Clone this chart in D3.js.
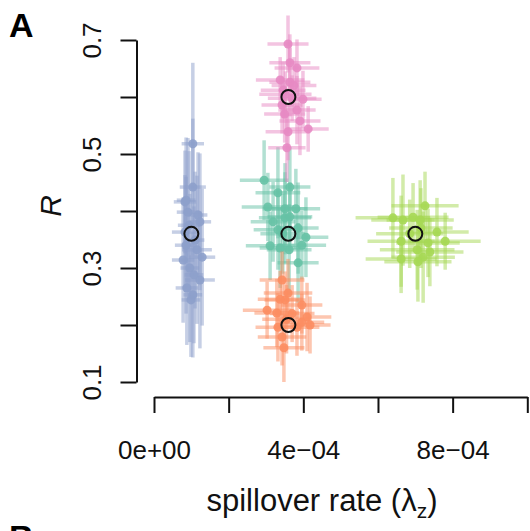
<!DOCTYPE html>
<html>
<head>
<meta charset="utf-8">
<script src="https://cdn.jsdelivr.net/npm/d3@7"></script>
<style>
  body { margin: 0; background: #fff; }
  svg { font-family: "Liberation Sans", Arial, sans-serif; }
</style>
</head>
<body>
<svg id="chart" width="530" height="531"></svg>
<script>
// rows: [lambda (x1e-4), R, lambda half-error (x1e-4), R half-error]
var blueRows = [
  [1.04, 0.518, 0.30, 0.142], [1.04, 0.442, 0.35, 0.12], [0.86, 0.419, 0.25, 0.11],
  [0.91, 0.398, 0.30, 0.13], [1.23, 0.381, 0.30, 0.12], [0.83, 0.363, 0.35, 0.10],
  [1.10, 0.349, 0.25, 0.12], [1.15, 0.332, 0.40, 0.13], [0.78, 0.314, 0.30, 0.11],
  [1.29, 0.319, 0.35, 0.12], [0.96, 0.300, 0.25, 0.13], [1.23, 0.279, 0.40, 0.12],
  [0.88, 0.265, 0.30, 0.10], [1.04, 0.253, 0.25, 0.11], [0.86, 0.340, 0.30, 0.12],
  [1.18, 0.393, 0.25, 0.11], [0.94, 0.375, 0.30, 0.13], [1.07, 0.288, 0.25, 0.12],
  [0.83, 0.416, 0.30, 0.09], [0.99, 0.244, 0.25, 0.10]
];
var greenRows = [
  [2.95, 0.454, 0.65, 0.07], [3.32, 0.432, 0.60, 0.08], [3.64, 0.442, 0.55, 0.07],
  [3.05, 0.407, 0.70, 0.06], [3.51, 0.404, 0.60, 0.08], [3.80, 0.404, 0.65, 0.07],
  [3.19, 0.381, 0.60, 0.07], [3.51, 0.388, 0.70, 0.08], [3.64, 0.390, 0.60, 0.06],
  [3.32, 0.367, 0.65, 0.07], [3.86, 0.370, 0.55, 0.08], [4.07, 0.354, 0.60, 0.07],
  [3.11, 0.339, 0.65, 0.06], [3.38, 0.335, 0.55, 0.07], [3.62, 0.332, 0.60, 0.08],
  [3.96, 0.340, 0.65, 0.06], [3.86, 0.309, 0.55, 0.07], [3.45, 0.360, 0.60, 0.07]
];
var orangeRows = [
  [3.43, 0.279, 0.60, 0.05], [3.59, 0.256, 0.65, 0.06], [3.51, 0.244, 0.55, 0.05],
  [3.03, 0.226, 0.65, 0.05], [3.29, 0.221, 0.60, 0.06], [3.96, 0.235, 0.55, 0.05],
  [4.10, 0.214, 0.65, 0.06], [3.96, 0.205, 0.60, 0.05], [4.18, 0.200, 0.55, 0.05],
  [3.32, 0.196, 0.60, 0.06], [3.43, 0.179, 0.65, 0.05], [3.83, 0.196, 0.60, 0.05],
  [3.48, 0.160, 0.55, 0.06], [3.70, 0.220, 0.60, 0.05], [3.55, 0.210, 0.65, 0.06],
  [3.38, 0.245, 0.60, 0.05]
];
var pinkRows = [
  [3.59, 0.693, 0.55, 0.05], [3.83, 0.651, 0.60, 0.05], [3.38, 0.630, 0.65, 0.04],
  [3.64, 0.626, 0.55, 0.06], [3.99, 0.596, 0.50, 0.05], [3.91, 0.558, 0.55, 0.06],
  [4.13, 0.544, 0.55, 0.04], [3.59, 0.539, 0.60, 0.05], [3.56, 0.511, 0.50, 0.06],
  [3.46, 0.612, 0.60, 0.05], [3.70, 0.598, 0.65, 0.04], [3.43, 0.586, 0.55, 0.05],
  [3.83, 0.577, 0.50, 0.06], [3.64, 0.660, 0.55, 0.05], [3.52, 0.605, 0.70, 0.04],
  [3.75, 0.620, 0.60, 0.05], [3.50, 0.570, 0.55, 0.05]
];
var limeRows = [
  [7.26, 0.409, 0.90, 0.06], [6.40, 0.388, 1.00, 0.07], [6.67, 0.384, 0.85, 0.08],
  [6.94, 0.389, 0.95, 0.06], [7.13, 0.384, 0.90, 0.07], [7.58, 0.363, 0.85, 0.06],
  [7.80, 0.347, 0.95, 0.05], [6.62, 0.347, 0.90, 0.08], [7.34, 0.344, 0.85, 0.06],
  [7.05, 0.332, 1.00, 0.07], [7.39, 0.328, 0.90, 0.06], [7.21, 0.319, 0.85, 0.08],
  [6.62, 0.316, 0.95, 0.06], [7.07, 0.311, 0.90, 0.07], [6.85, 0.360, 0.90, 0.06],
  [7.15, 0.370, 0.85, 0.07]
];
// true values (open circles)
var truthRows = [[1.0, 0.36], [3.6, 0.60], [3.6, 0.36], [3.6, 0.20], [7.0, 0.36]];

var groups = [
  {rows: blueRows, color: "#8DA0CB"},
  {rows: greenRows, color: "#66C2A5"},
  {rows: orangeRows, color: "#FC8D62"},
  {rows: pinkRows, color: "#E78AC3"},
  {rows: limeRows, color: "#A6D854"}
];
var xTicks = [0, 2, 4, 6, 8, 10];
var yTicks = [0.1, 0.2, 0.3, 0.4, 0.5, 0.6, 0.7];
var xLabelled = [0, 4, 8];
var yLabelled = [0.1, 0.3, 0.5, 0.7];
var xUnit = 1e-4;

var svg = d3.select("#chart");

var x = d3.scaleLinear().domain([0, 1e-3]).range([154, 527.3]);
var y = d3.scaleLinear().domain([0.1, 0.7]).range([382, 40]);

var plot = svg.append("g");

groups.forEach(function(g) {
  var grp = plot.append("g");
  grp.selectAll("line.v").data(g.rows).enter().append("line")
    .attr("x1", function(d) { return x(d[0] * xUnit); })
    .attr("x2", function(d) { return x(d[0] * xUnit); })
    .attr("y1", function(d) { return y(d[1] - d[3]); })
    .attr("y2", function(d) { return y(d[1] + d[3]); })
    .attr("stroke", g.color).attr("stroke-width", 3.5).attr("stroke-opacity", 0.5);
  grp.selectAll("line.h").data(g.rows).enter().append("line")
    .attr("x1", function(d) { return x((d[0] - d[2]) * xUnit); })
    .attr("x2", function(d) { return x((d[0] + d[2]) * xUnit); })
    .attr("y1", function(d) { return y(d[1]); })
    .attr("y2", function(d) { return y(d[1]); })
    .attr("stroke", g.color).attr("stroke-width", 3.5).attr("stroke-opacity", 0.5);
  grp.selectAll("circle").data(g.rows).enter().append("circle")
    .attr("cx", function(d) { return x(d[0] * xUnit); })
    .attr("cy", function(d) { return y(d[1]); })
    .attr("r", 4.5)
    .attr("fill", g.color).attr("fill-opacity", 0.9);
});

plot.selectAll("circle.truth").data(truthRows).enter().append("circle")
  .attr("cx", function(d) { return x(d[0] * xUnit); })
  .attr("cy", function(d) { return y(d[1]); })
  .attr("r", 7)
  .attr("fill", "none").attr("stroke", "#111").attr("stroke-width", 2);

// y axis
var yAxis = svg.append("g")
  .attr("transform", "translate(136.5,0)")
  .call(d3.axisLeft(y).tickValues(yTicks).tickSize(16).tickSizeOuter(0)
    .tickFormat(function(d) { return yLabelled.some(function(v) { return Math.abs(v - d) < 1e-9; }) ? d3.format(".1f")(d) : ""; }));
yAxis.select(".domain").attr("stroke", "#111").attr("stroke-width", 2);
yAxis.selectAll(".tick line").attr("stroke", "#111").attr("stroke-width", 2);
yAxis.selectAll(".tick text")
  .attr("x", 0).attr("y", -36).attr("dy", null)
  .attr("transform", "rotate(-90)")
  .attr("text-anchor", "middle")
  .attr("font-size", 26).attr("fill", "#111")
  .attr("font-family", "Liberation Sans, Arial, sans-serif");

// x axis
var xAxis = svg.append("g")
  .attr("transform", "translate(0,397)")
  .call(d3.axisBottom(x).tickValues(xTicks.map(function(v) { return v * xUnit; }))
    .tickSize(16).tickSizeOuter(0)
    .tickFormat(function(d) {
      var v = Math.round(d / xUnit);
      if (xLabelled.indexOf(v) < 0) return "";
      return v === 0 ? "0e+00" : v + "e\u221204";
    }));
xAxis.select(".domain").attr("stroke", "#111").attr("stroke-width", 2);
xAxis.selectAll(".tick line").attr("stroke", "#111").attr("stroke-width", 2);
xAxis.selectAll(".tick text")
  .attr("y", 62).attr("dy", null)
  .attr("font-size", 26).attr("fill", "#111")
  .attr("font-family", "Liberation Sans, Arial, sans-serif");

// axis titles
var xt = svg.append("text")
  .attr("x", 322).attr("y", 511)
  .attr("text-anchor", "middle")
  .attr("font-size", 31).attr("fill", "#111");
xt.append("tspan").text("spillover rate (\u03bb");
xt.append("tspan").attr("font-size", 21).attr("dy", 7).text("z");
xt.append("tspan").attr("dy", -7).text(")");

svg.append("text")
  .attr("transform", "translate(61,206) rotate(-90)")
  .attr("text-anchor", "middle")
  .attr("font-size", 30).attr("font-style", "italic").attr("fill", "#111")
  .text("R");

// panel labels
svg.append("text").attr("x", 9).attr("y", 37)
  .attr("font-size", 34).attr("font-weight", "bold").attr("fill", "#000").text("A");
svg.append("text").attr("x", 9).attr("y", 549)
  .attr("font-size", 34).attr("font-weight", "bold").attr("fill", "#000").text("B");
</script>
</body>
</html>
